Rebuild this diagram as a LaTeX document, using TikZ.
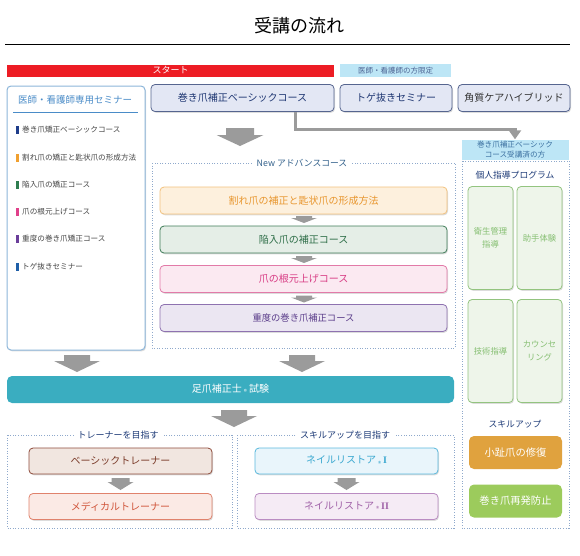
\documentclass[tikz,border=0pt]{standalone}
\usepackage{fontspec}
\setmainfont{Noto Sans CJK JP}
\newfontfamily\romanfont{Liberation Serif}
\usetikzlibrary{shadows,arrows.meta}
\definecolor{startred}{HTML}{ED1C24}
\definecolor{paleblue}{HTML}{BDE6F6}
\definecolor{navy}{HTML}{1F3C78}
\definecolor{leftborder}{HTML}{8DB6DA}
\definecolor{lefthead}{HTML}{4A8CC8}
\definecolor{topfill}{HTML}{E3E7F4}
\definecolor{topborder}{HTML}{56658F}
\definecolor{toptext}{HTML}{1E3672}
\definecolor{dashcol}{HTML}{8FA9CC}
\definecolor{arrowgray}{HTML}{9B9B9B}
\definecolor{orfill}{HTML}{FDF0DD}
\definecolor{orborder}{HTML}{F2C27E}
\definecolor{ortext}{HTML}{E8962E}
\definecolor{grfill}{HTML}{E5EEE7}
\definecolor{grborder}{HTML}{3F7C58}
\definecolor{grtext}{HTML}{2E6E48}
\definecolor{pkfill}{HTML}{FBE9F1}
\definecolor{pkborder}{HTML}{E27AA8}
\definecolor{pktext}{HTML}{D83C84}
\definecolor{pufill}{HTML}{EBE6F2}
\definecolor{puborder}{HTML}{8E72B0}
\definecolor{putext}{HTML}{5A3C8A}
\definecolor{examteal}{HTML}{3AADC0}
\definecolor{ltfill}{HTML}{EEF5EA}
\definecolor{ltborder}{HTML}{93C47F}
\definecolor{lttext}{HTML}{86BF72}
\definecolor{kofill}{HTML}{E0A23E}
\definecolor{safill}{HTML}{9CCB5C}
\definecolor{btfill}{HTML}{F1E6E0}
\definecolor{btborder}{HTML}{8E4B3B}
\definecolor{bttext}{HTML}{7A3A28}
\definecolor{mtfill}{HTML}{FBEAE5}
\definecolor{mtborder}{HTML}{E0826C}
\definecolor{mttext}{HTML}{D0553A}
\definecolor{nafill}{HTML}{E9F5FB}
\definecolor{naborder}{HTML}{5AB8DC}
\definecolor{natext}{HTML}{3AA8D0}
\definecolor{nbfill}{HTML}{F5EBF5}
\definecolor{nbborder}{HTML}{BA8CC2}
\definecolor{nbtext}{HTML}{A062A8}
\definecolor{itemgray}{HTML}{444444}
\definecolor{barA}{HTML}{1F3D8A}
\definecolor{barB}{HTML}{F0A030}
\definecolor{barC}{HTML}{2E7D4F}
\definecolor{barD}{HTML}{E0408A}
\definecolor{barE}{HTML}{6A3D9A}
\definecolor{barF}{HTML}{1F5FA8}
\newcommand\fsz[1]{\fontsize{#1}{#1}\selectfont}
\newcommand\regmark{\hspace{2pt}\raisebox{-2.2pt}{\fontsize{6.5}{6.5}\selectfont ®}\hspace{2pt}}
\newcommand\blkarrow[7]{%
  \fill[arrowgray] (#1-#3/2,#2) -- (#1+#3/2,#2) -- (#1+#3/2,#2+#4) -- (#1+#5/2,#2+#4)
    -- (#1,#2+#4+#6) -- (#1-#5/2,#2+#4) -- (#1-#3/2,#2+#4) -- cycle;}
\tikzset{
  shad/.style={drop shadow={shadow xshift=1pt,shadow yshift=-1.3pt,opacity=0.28}},
  boxbase/.style={rounded corners=4pt, line width=0.8pt, inner sep=0pt, shad},
  topbox/.style={boxbase, draw=topborder, fill=topfill, minimum height=27pt, text=toptext, font=\fsz{10}},
  advbox/.style={boxbase, minimum width=287pt, minimum height=27pt, font=\fsz{10}},
  trbox/.style={boxbase, minimum width=183pt, minimum height=26pt, font=\fsz{10}},
  gridbox/.style={boxbase, draw=ltborder, fill=ltfill, minimum width=45pt, minimum height=103pt, text=lttext, font=\fontsize{8.3}{13}\selectfont, align=center},
  skillbox/.style={rounded corners=5pt, inner sep=0pt, minimum width=93pt, minimum height=33pt, text=white, font=\fsz{10.3}},
  dotbox/.style={draw=dashcol, line width=0.7pt, dash pattern=on 1pt off 1.6pt},
  boxlabel/.style={fill=white, inner xsep=4pt, inner ysep=1pt, text=navy, font=\fsz{9}},
  itemtext/.style={anchor=west, inner sep=0pt, text=itemgray, font=\fsz{7.6}},
  itembar/.style={minimum width=2.5pt, minimum height=8pt, inner sep=0pt},
  conn/.style={draw=arrowgray, line width=3pt, -{Triangle[width=12pt,length=9pt]}}
}
\begin{document}
\begin{tikzpicture}[x=1pt,y=-1pt]
\useasboundingbox (0,0) rectangle (580,555);
% title
\node[font=\fsz{18}] (title) at (299,26) {受講の流れ};
\draw[line width=0.9pt] (5,44) -- (570,44);
% bars
\node[fill=startred, minimum width=327pt, minimum height=12pt, inner sep=0pt, text=white, font=\fsz{9}] (start) at (170.5,70.5) {スタート};
\node[fill=paleblue, minimum width=111pt, minimum height=13pt, inner sep=0pt, text=navy!80, font=\fsz{7.5}] (limit) at (395.5,70.5) {医師・看護師の方限定};
% left box
\node[boxbase, draw=leftborder, line width=1pt, fill=white, minimum width=138pt, minimum height=264pt] (leftbox) at (76,218) {};
\node[text=lefthead, font=\fsz{9.5}] (lefthd) at (75,100) {医師・看護師専用セミナー};
\draw[lefthead, line width=0.8pt] (13,112) -- (138,112);
\foreach \yy/\cc/\tt [count=\i] in {130/barA/巻き爪矯正ベーシックコース, 158/barB/割れ爪の矯正と匙状爪の形成方法, 185/barC/陥入爪の矯正コース, 212/barD/爪の根元上げコース, 239/barE/重度の巻き爪矯正コース, 267/barF/トゲ抜きセミナー}{
  \node[itembar, fill=\cc] (bar\i) at (17.3,\yy) {};
  \node[itemtext] (item\i) at (22,\yy) {\tt};
}
% top boxes
\node[topbox, minimum width=183pt] (basic) at (242.5,98) {巻き爪補正ベーシックコース};
\node[topbox, minimum width=112pt] (toge) at (396,98) {トゲ抜きセミナー};
\node[topbox, minimum width=112pt, text=black!80] (kaku) at (514,98) {角質ケアハイブリッド};
% right column
\node[fill=paleblue, minimum width=107pt, minimum height=20pt, inner sep=0pt, text=lefthead!80!black, font=\fontsize{7.6}{9.4}\selectfont, align=center] (rlabel) at (515,149.5) {巻き爪補正ベーシック\\コース受講済の方};
\draw[conn] ([xshift=52.5pt]basic.south) |- ([yshift=10pt]rlabel.north) -- (rlabel.north);
\draw[dotbox] (462,161) rectangle (569,528);
\node[text=navy, font=\fsz{8.8}] (kojin) at (515,175) {個人指導プログラム};
\node[gridbox] (eisei) at (490.5,238) {衛生管理\\指導};
\node[gridbox] (joshu) at (539.5,238) {助手体験};
\node[gridbox] (gijutsu) at (490.5,351) {技術指導};
\node[gridbox] (counsel) at (539.5,351) {カウンセ\\リング};
\node[text=navy, font=\fsz{8.8}] (skillup) at (515,424) {スキルアップ};
\node[skillbox, fill=kofill] (koshi) at (515.5,452.5) {小趾爪の修復};
\node[skillbox, fill=safill] (saihatsu) at (515.5,501) {巻き爪再発防止};
% advance course
\blkarrow{240}{128}{28}{7}{47}{11}{}
\draw[dotbox] (152,163) rectangle (455,348);
\node[boxlabel, text=lefthead!70!black, font=\fsz{8.8}] (advlabel) at (302,163) {New アドバンスコース};
\node[advbox, draw=orborder, fill=orfill, text=ortext] (ware) at (303.5,200.5) {割れ爪の補正と匙状爪の形成方法};
\node[advbox, draw=grborder, fill=grfill, text=grtext] (kannyu) at (303.5,239.5) {陥入爪の補正コース};
\node[advbox, draw=pkborder, fill=pkfill, text=pktext] (nemoto) at (303.5,279) {爪の根元上げコース};
\node[advbox, draw=puborder, fill=pufill, text=putext, font=\fsz{9.3}] (judo) at (303.5,318) {重度の巻き爪補正コース};
\blkarrow{304}{216}{16}{2}{26}{5}{}
\blkarrow{304}{256}{16}{2}{26}{5}{}
\blkarrow{304}{295.5}{16}{2}{26}{5}{}
% exam
\blkarrow{77}{355}{26}{6}{46}{11}{}
\blkarrow{302}{355}{26}{6}{46}{11}{}
\node[rounded corners=5pt, fill=examteal, minimum width=447pt, minimum height=27pt, inner sep=0pt, text=white, font=\fsz{10}] (exam) at (230.5,389.5) {足爪補正士\regmark 試験};
\blkarrow{234}{410}{26}{6}{46}{11}{}
% bottom
\draw[dotbox] (7,435) rectangle (232,528);
\draw[dotbox] (237,435) rectangle (454,528);
\node[boxlabel] (trlabel) at (118,435) {トレーナーを目指す};
\node[boxlabel] (sklabel) at (345,435) {スキルアップを目指す};
\node[trbox, draw=btborder, fill=btfill, text=bttext] (btrainer) at (120.5,461) {ベーシックトレーナー};
\node[trbox, draw=mtborder, fill=mtfill, text=mttext] (mtrainer) at (120.5,506.5) {メディカルトレーナー};
\node[trbox, draw=naborder, fill=nafill, text=natext] (nail1) at (346.5,461) {ネイルリストア\regmark{\romanfont\bfseries I}};
\node[trbox, draw=nbborder, fill=nbfill, text=nbtext] (nail2) at (346.5,506.5) {ネイルリストア\regmark{\romanfont\bfseries II}};
\blkarrow{120.5}{478}{18}{4}{26}{8}{}
\blkarrow{346.5}{478}{18}{4}{26}{8}{}
\end{tikzpicture}
\end{document}
